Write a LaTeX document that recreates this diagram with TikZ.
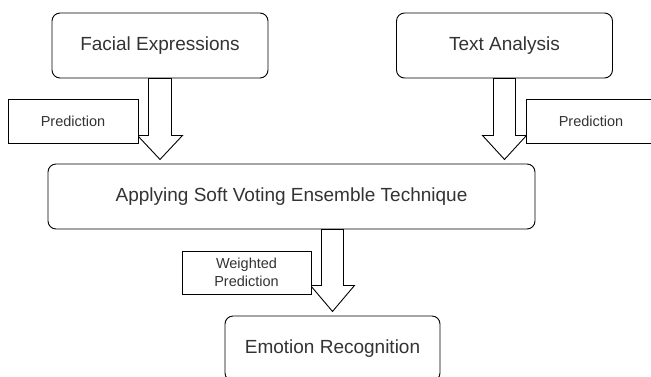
\documentclass[tikz,border=0pt]{standalone}
\usepackage{fontspec}
\setmainfont{Liberation Sans}
\definecolor{txt}{HTML}{333333}
\tikzset{
  stage/.style={draw, rounded corners=8pt, line width=0.9pt, text=txt, minimum height=65pt, font=\fontsize{19}{22}\selectfont},
  tag/.style={draw, fill=white, line width=0.9pt, text=txt, minimum width=130pt, minimum height=44pt, align=center, font=\fontsize{14.5}{17}\selectfont},
  blockarrow/.style={draw, fill=white, line width=0.9pt, line join=miter}
}
\begin{document}
\begin{tikzpicture}[x=1pt, y=-1pt]
	\useasboundingbox (0,0) rectangle (651,376);

	\node[stage, minimum width=216pt] (face) at (160,45.5) {Facial Expressions};
	\node[stage, minimum width=216pt] (text) at (504.5,45.5) {Text Analysis};
	\node[stage, minimum width=487pt] (vote) at (291.5,196.5) {Applying Soft Voting Ensemble Technique};
	\node[stage, minimum width=215pt] (emo) at (332.5,348.5) {Emotion Recognition};

	% hollow arrows
	\draw[blockarrow] ([xshift=-11.5pt]face.south) -- ++(0,57) -- ++(-11,0) -- ++(22.5,24)
		-- ++(22.5,-24) -- ++(-11,0) -- ++(0,-57) -- cycle;
	\draw[blockarrow] ([xshift=-11pt]text.south) -- ++(0,57) -- ++(-11,0) -- ++(22,24)
		-- ++(22,-24) -- ++(-11,0) -- ++(0,-57) -- cycle;
	\draw[blockarrow] ([xshift=-11pt]vote.south -| emo.north) -- ++(0,56) -- ++(-11,0) -- ++(22,26)
		-- ++(22,-26) -- ++(-11,0) -- ++(0,-56) -- cycle;

	\node[tag] (p1) at (73,121) {Prediction};
	\node[tag] (p2) at (591,121) {Prediction};
	\node[tag, minimum width=129pt, minimum height=43pt] (p3) at (246.5,272.5) {Weighted\\[1pt]Prediction};

\end{tikzpicture}
\end{document}
